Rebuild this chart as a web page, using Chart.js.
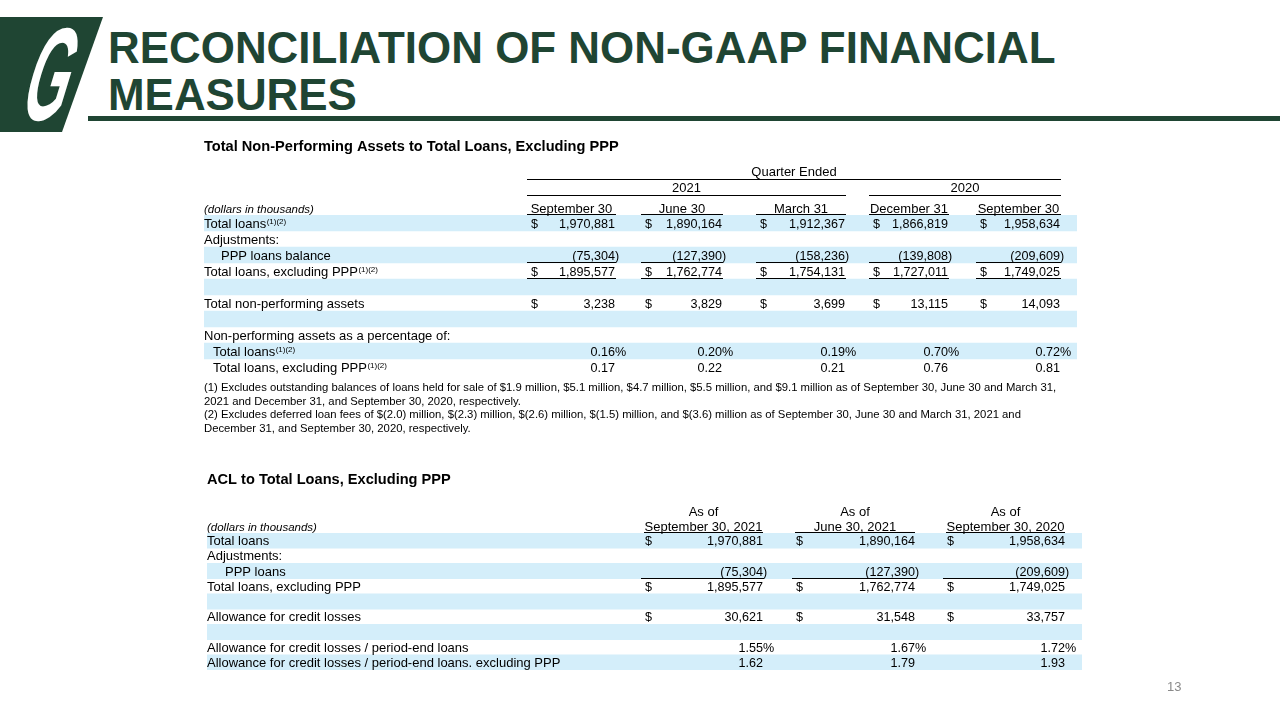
<!DOCTYPE html>
<html>
<head>
<meta charset="utf-8">
<script src="https://cdn.jsdelivr.net/npm/chart.js@4.4.1/dist/chart.umd.min.js"></script>
<style>
html,body{margin:0;padding:0;background:#fff;width:1280px;height:720px;overflow:hidden;font-family:"Liberation Sans",Arial,sans-serif;}
#logo{position:absolute;left:0;top:0;}
#title{position:absolute;left:108px;top:24px;font-size:45px;line-height:47px;font-weight:bold;color:#1f4533;transform:scaleX(0.976);transform-origin:0 0;white-space:nowrap;}
#rule{position:absolute;left:88px;top:116px;width:1192px;height:5px;background:#1f4533;}
#notes{position:absolute;left:204px;top:381px;font-size:11.3px;line-height:13.7px;white-space:nowrap;color:#000;}
#page{position:absolute;left:1167px;top:679px;font-size:13px;color:#8a8a8a;}
canvas{position:absolute;left:0;top:0;}
</style>
</head>
<body>
<svg id="logo" width="120" height="140">
  <polygon points="0,17 103,17 62,132 0,132" fill="#1f4533"/>
  <text transform="translate(17,120) skewX(-17) scale(0.42,1)" font-family="Liberation Sans, Arial, sans-serif" font-weight="bold" font-size="132" fill="#fff">G</text>
</svg>
<div id="title">RECONCILIATION OF NON-GAAP FINANCIAL<br>MEASURES</div>
<div id="rule"></div>
<canvas id="t1" width="1280" height="720"></canvas>
<canvas id="t2" width="1280" height="720"></canvas>
<div id="notes"></div>
<div id="page">13</div>
<script>
// ================= DATA =================
const unitsLabel = '(dollars in thousands)';

const t1Title = 'Total Non-Performing Assets to Total Loans, Excluding PPP';
const t1Group = 'Quarter Ended';
const t1Years = ['2021', '2020'];
const t1Columns = ['September 30', 'June 30', 'March 31', 'December 31', 'September 30'];
const t1RowLabels = ['Total loans', 'Adjustments:', 'PPP loans balance', 'Total loans, excluding PPP', '',
  'Total non-performing assets', '', 'Non-performing assets as a percentage of:', 'Total loans', 'Total loans, excluding PPP'];
const t1RowNotes = ['(1)(2)', '', '', '(1)(2)', '', '', '', '', '(1)(2)', '(1)(2)'];
const t1Sep2021 = [1970881, null, -75304, 1895577, null, 3238, null, null, 0.16, 0.17];
const t1Jun2021 = [1890164, null, -127390, 1762774, null, 3829, null, null, 0.20, 0.22];
const t1Mar2021 = [1912367, null, -158236, 1754131, null, 3699, null, null, 0.19, 0.21];
const t1Dec2020 = [1866819, null, -139808, 1727011, null, 13115, null, null, 0.70, 0.76];
const t1Sep2020 = [1958634, null, -209609, 1749025, null, 14093, null, null, 0.72, 0.81];

const t2Title = 'ACL to Total Loans, Excluding PPP';
const t2ColumnsTop = ['As of', 'As of', 'As of'];
const t2Columns = ['September 30, 2021', 'June 30, 2021', 'September 30, 2020'];
const t2RowLabels = ['Total loans', 'Adjustments:', 'PPP loans', 'Total loans, excluding PPP', '',
  'Allowance for credit losses', '', 'Allowance for credit losses / period-end loans',
  'Allowance for credit losses / period-end loans. excluding PPP'];
const t2Sep2021 = [1970881, null, -75304, 1895577, null, 30621, null, 1.55, 1.62];
const t2Jun2021 = [1890164, null, -127390, 1762774, null, 31548, null, 1.67, 1.79];
const t2Sep2020 = [1958634, null, -209609, 1749025, null, 33757, null, 1.72, 1.93];

const footnotes = [
  '(1) Excludes outstanding balances of loans held for sale of $1.9 million, $5.1 million, $4.7 million, $5.5 million, and $9.1 million as of September 30, June 30 and March 31,',
  '2021 and December 31, and September 30, 2020, respectively.',
  '(2) Excludes deferred loan fees of $(2.0) million, $(2.3) million, $(2.6) million, $(1.5) million, and $(3.6) million as of September 30, June 30 and March 31, 2021 and',
  'December 31, and September 30, 2020, respectively.'
];

// ================= STYLE / LAYOUT =================
const BAND = '#d4eefa';
const FONT = '"Liberation Sans", Arial, sans-serif';
const LABEL = '13px ' + FONT;
const NUM = '12.6px ' + FONT;
const BOLD = 'bold 14.6px ' + FONT;
const ITAL = 'italic 11.5px ' + FONT;
const SUP = '8px ' + FONT;
const BASE = 4.5;

const L1 = { left: 204, right: 1077, top: 215, bottom: 375,
  dollar: [531, 645, 760, 873, 980], valRight: [615, 722, 845, 948, 1060],
  bands: [0, 2, 4, 6, 8], indent: { 2: 17, 8: 9, 9: 9 }, underline: [2, 3],
  fmt: ['usd', '', 'neg', 'usd', '', 'usd', '', '', 'pct', 'dec'] };
const L2 = { left: 207, right: 1082, top: 533, bottom: 670,
  dollar: [645, 796, 947], valRight: [763, 915, 1065],
  bands: [0, 2, 4, 6, 8], indent: { 2: 18 }, underline: [2],
  fmt: ['usd', '', 'neg', 'usd', '', 'usd', '', 'pct', 'dec'] };

document.getElementById('notes').innerHTML = footnotes.map(s => s.replace(/&/g, '&amp;')).join('<br>');

function hline(ctx, x0, x1, py) {
  ctx.fillRect(Math.round(x0), Math.round(py), Math.round(x1 - x0), 1);
}
function fmtVal(v, f) {
  if (f === 'neg') return { body: '(' + Math.abs(v).toLocaleString('en-US'), suf: ')', usd: false };
  if (f === 'pct') return { body: v.toFixed(2), suf: '%', usd: false };
  if (f === 'dec') return { body: v.toFixed(2), suf: '', usd: false };
  return { body: v.toLocaleString('en-US'), suf: '', usd: true };
}
function drawBody(chart, L, labels, notes, cols) {
  const ctx = chart.ctx, xs = chart.scales.x, ys = chart.scales.y;
  const X = v => xs.getPixelForValue(v);
  const rowH = ys.getPixelForValue(1) - ys.getPixelForValue(0);
  ctx.fillStyle = '#000';
  ctx.textBaseline = 'alphabetic';
  labels.forEach((lab, i) => {
    if (!lab) return;
    const cy = ys.getPixelForValue(i);
    const lx = X(L.left + (L.indent[i] || 0));
    ctx.font = LABEL; ctx.textAlign = 'left';
    ctx.fillText(lab, lx, cy + BASE);
    if (notes && notes[i]) {
      const w = ctx.measureText(lab).width;
      ctx.font = SUP;
      ctx.fillText(notes[i], lx + w + 0.5, cy + 0.5);
    }
  });
  cols.forEach((arr, k) => {
    arr.forEach((v, i) => {
      if (v === null || v === undefined) return;
      const cy = ys.getPixelForValue(i);
      const r = fmtVal(v, L.fmt[i]);
      ctx.font = NUM;
      ctx.textAlign = 'right';
      ctx.fillText(r.body, X(L.valRight[k]), cy + BASE);
      ctx.textAlign = 'left';
      if (r.suf) ctx.fillText(r.suf, X(L.valRight[k]), cy + BASE);
      if (r.usd) ctx.fillText('$', X(L.dollar[k]), cy + BASE);
    });
  });
  L.underline.forEach(i => {
    const yb = ys.getPixelForValue(i) + rowH / 2 - 1;
    cols.forEach((_, k) => hline(ctx, X(L.dollar[k] - 4), X(L.valRight[k] + 1), yb));
  });
}

function drawT1(chart) {
  const ctx = chart.ctx, xs = chart.scales.x, a = chart.chartArea;
  const X = v => xs.getPixelForValue(v);
  const L = L1;
  ctx.save();
  ctx.fillStyle = '#000';
  ctx.textBaseline = 'alphabetic';
  ctx.font = BOLD; ctx.textAlign = 'left';
  ctx.fillText(t1Title, X(L.left), a.top - 69 + 5);
  const span = k => [L.dollar[k] - 4, L.valRight[k] + 1];
  ctx.font = LABEL; ctx.textAlign = 'center';
  const g0 = span(0)[0], g1 = span(4)[1];
  ctx.fillText(t1Group, X((g0 + g1) / 2), a.top - 44 + BASE);
  hline(ctx, X(g0), X(g1), a.top - 36);
  const yearSpans = [[span(0)[0], span(2)[1]], [span(3)[0], span(4)[1]]];
  yearSpans.forEach((s, j) => {
    ctx.fillText(t1Years[j], X((s[0] + s[1]) / 2), a.top - 28 + BASE);
    hline(ctx, X(s[0]), X(s[1]), a.top - 20);
  });
  t1Columns.forEach((c, k) => {
    const s = span(k);
    ctx.fillText(c, X((s[0] + s[1]) / 2), a.top - 7 + BASE);
    hline(ctx, X(s[0]), X(s[1]), a.top - 1);
  });
  ctx.font = ITAL; ctx.textAlign = 'left';
  ctx.fillText(unitsLabel, X(L.left), a.top - 7 + BASE);
  drawBody(chart, L, t1RowLabels, t1RowNotes, [t1Sep2021, t1Jun2021, t1Mar2021, t1Dec2020, t1Sep2020]);
  ctx.restore();
}

function drawT2(chart) {
  const ctx = chart.ctx, xs = chart.scales.x, a = chart.chartArea;
  const X = v => xs.getPixelForValue(v);
  const L = L2;
  ctx.save();
  ctx.fillStyle = '#000';
  ctx.textBaseline = 'alphabetic';
  ctx.font = BOLD; ctx.textAlign = 'left';
  ctx.fillText(t2Title, X(L.left), a.top - 54 + 5);
  ctx.font = LABEL; ctx.textAlign = 'center';
  t2Columns.forEach((c, k) => {
    const s0 = L.dollar[k] - 1, s1 = L.valRight[k];
    ctx.fillText(t2ColumnsTop[k], X((s0 + s1) / 2), a.top - 22 + BASE);
    ctx.fillText(c, X((s0 + s1) / 2), a.top - 7 + BASE);
    hline(ctx, X(s0), X(s1), a.top - 1);
  });
  ctx.font = ITAL; ctx.textAlign = 'left';
  ctx.fillText(unitsLabel, X(L.left), a.top - 7 + BASE);
  drawBody(chart, L, t2RowLabels, null, [t2Sep2021, t2Jun2021, t2Sep2020]);
  ctx.restore();
}

function buildChart(id, L, labels, draw) {
  const bandData = labels.map((_, i) => L.bands.includes(i) ? [L.left, L.right] : null);
  return new Chart(document.getElementById(id), {
    type: 'bar',
    data: { labels: labels.map((s, i) => s || (' ' + i)),
      datasets: [{ data: bandData, backgroundColor: BAND, borderWidth: 0,
        barPercentage: 1, categoryPercentage: 1, borderSkipped: false }] },
    options: {
      indexAxis: 'y', responsive: false, animation: false, events: [],
      layout: { padding: { left: L.left, right: 1280 - L.right, top: L.top, bottom: 720 - L.bottom } },
      scales: {
        x: { type: 'linear', min: L.left, max: L.right, display: false },
        y: { type: 'category', display: false }
      },
      plugins: { legend: { display: false }, tooltip: { enabled: false } }
    },
    plugins: [{ id: 'tableText_' + id, afterDatasetsDraw: draw }]
  });
}

buildChart('t1', L1, t1RowLabels, drawT1);
buildChart('t2', L2, t2RowLabels, drawT2);
</script>
</body>
</html>
